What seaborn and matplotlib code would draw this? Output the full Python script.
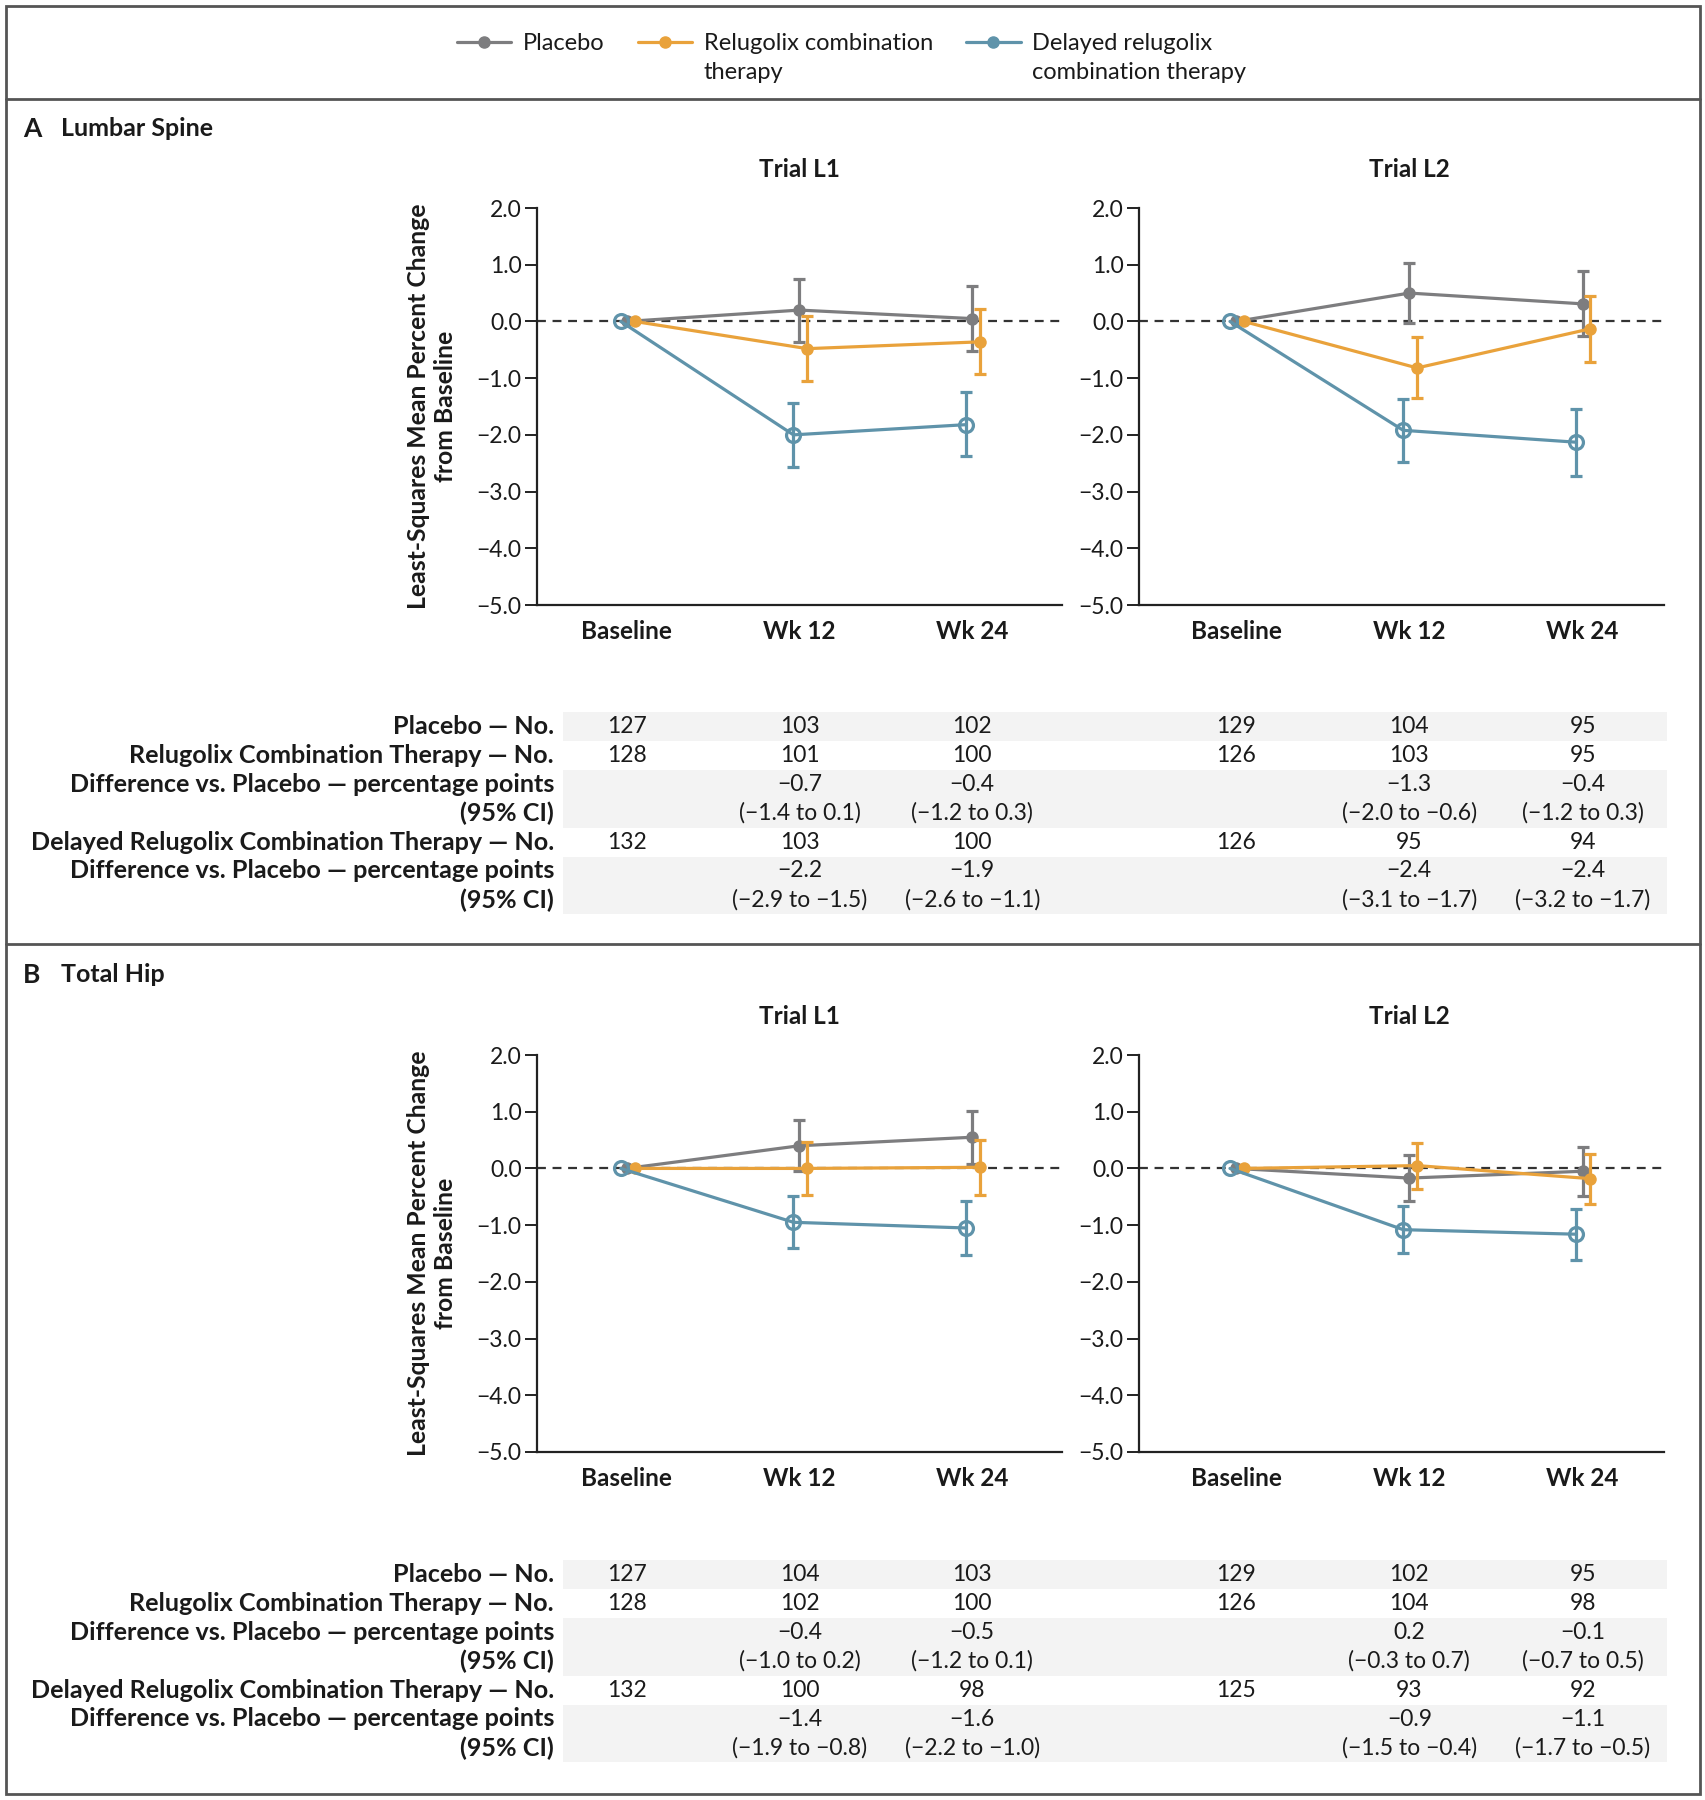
import pandas as pd
import numpy as np
import matplotlib
matplotlib.use("Agg")
import matplotlib.pyplot as plt
import matplotlib.transforms as mtransforms
from matplotlib.patches import Rectangle
from matplotlib.lines import Line2D
import seaborn as sns

# ---- data ----
visits = ["Baseline", "Wk 12", "Wk 24"]
groups = ["Placebo", "Relugolix combination", "Delayed relugolix"]
groups_cont = ["", "therapy", "combination therapy"]
colors = ["#7d7d7f", "#e9a23b", "#5f93aa"]

# panel A, lumbar spine (mean, lower CI, upper CI)
a_l1_placebo = [0.0, 0.20, 0.05]
a_l1_placebo_lo = [0.0, -0.37, -0.52]
a_l1_placebo_hi = [0.0, 0.75, 0.62]
a_l1_relu = [0.0, -0.48, -0.36]
a_l1_relu_lo = [0.0, -1.05, -0.93]
a_l1_relu_hi = [0.0, 0.10, 0.22]
a_l1_delay = [0.0, -2.00, -1.82]
a_l1_delay_lo = [0.0, -2.56, -2.38]
a_l1_delay_hi = [0.0, -1.43, -1.25]

a_l2_placebo = [0.0, 0.50, 0.31]
a_l2_placebo_lo = [0.0, -0.02, -0.26]
a_l2_placebo_hi = [0.0, 1.03, 0.89]
a_l2_relu = [0.0, -0.82, -0.13]
a_l2_relu_lo = [0.0, -1.35, -0.72]
a_l2_relu_hi = [0.0, -0.28, 0.45]
a_l2_delay = [0.0, -1.92, -2.13]
a_l2_delay_lo = [0.0, -2.47, -2.72]
a_l2_delay_hi = [0.0, -1.37, -1.54]

# panel B, total hip
b_l1_placebo = [0.0, 0.40, 0.55]
b_l1_placebo_lo = [0.0, -0.04, 0.08]
b_l1_placebo_hi = [0.0, 0.85, 1.02]
b_l1_relu = [0.0, 0.00, 0.02]
b_l1_relu_lo = [0.0, -0.46, -0.47]
b_l1_relu_hi = [0.0, 0.46, 0.50]
b_l1_delay = [0.0, -0.95, -1.05]
b_l1_delay_lo = [0.0, -1.41, -1.53]
b_l1_delay_hi = [0.0, -0.49, -0.57]

b_l2_placebo = [0.0, -0.17, -0.05]
b_l2_placebo_lo = [0.0, -0.57, -0.48]
b_l2_placebo_hi = [0.0, 0.23, 0.38]
b_l2_relu = [0.0, 0.05, -0.18]
b_l2_relu_lo = [0.0, -0.36, -0.62]
b_l2_relu_hi = [0.0, 0.44, 0.25]
b_l2_delay = [0.0, -1.08, -1.16]
b_l2_delay_lo = [0.0, -1.49, -1.61]
b_l2_delay_hi = [0.0, -0.66, -0.71]

row_labels = ["Placebo \u2014 No.",
              "Relugolix Combination Therapy \u2014 No.",
              "Difference vs. Placebo \u2014 percentage points",
              "(95% CI)",
              "Delayed Relugolix Combination Therapy \u2014 No.",
              "Difference vs. Placebo \u2014 percentage points",
              "(95% CI)"]

a_l1_table = [["127", "103", "102"],
              ["128", "101", "100"],
              ["", "\u22120.7", "\u22120.4"],
              ["", "(\u22121.4 to 0.1)", "(\u22121.2 to 0.3)"],
              ["132", "103", "100"],
              ["", "\u22122.2", "\u22121.9"],
              ["", "(\u22122.9 to \u22121.5)", "(\u22122.6 to \u22121.1)"]]
a_l2_table = [["129", "104", "95"],
              ["126", "103", "95"],
              ["", "\u22121.3", "\u22120.4"],
              ["", "(\u22122.0 to \u22120.6)", "(\u22121.2 to 0.3)"],
              ["126", "95", "94"],
              ["", "\u22122.4", "\u22122.4"],
              ["", "(\u22123.1 to \u22121.7)", "(\u22123.2 to \u22121.7)"]]
b_l1_table = [["127", "104", "103"],
              ["128", "102", "100"],
              ["", "\u22120.4", "\u22120.5"],
              ["", "(\u22121.0 to 0.2)", "(\u22121.2 to 0.1)"],
              ["132", "100", "98"],
              ["", "\u22121.4", "\u22121.6"],
              ["", "(\u22121.9 to \u22120.8)", "(\u22122.2 to \u22121.0)"]]
b_l2_table = [["129", "102", "95"],
              ["126", "104", "98"],
              ["", "0.2", "\u22120.1"],
              ["", "(\u22120.3 to 0.7)", "(\u22120.7 to 0.5)"],
              ["125", "93", "92"],
              ["", "\u22120.9", "\u22121.1"],
              ["", "(\u22121.5 to \u22120.4)", "(\u22121.7 to \u22120.5)"]]

sns.set_style("ticks")
plt.rcParams['font.family'] = ['Lato', 'DejaVu Sans']
plt.rcParams['axes.unicode_minus'] = True

W, H = 1706, 1800
fig = plt.figure(figsize=(W / 100, H / 100), dpi=100)


def fx(px):
    return px / W


def fy(py):
    return 1 - py / H


offsets = [0.0, 0.045, -0.035]
TXT = "#1a1a1a"


def draw_panel(ax, series, title, xlim):
    for i, (mean, lo, hi) in enumerate(series):
        df = pd.DataFrame({"x": np.arange(3) + offsets[i], "y": mean})
        filled = i < 2
        sns.lineplot(data=df, x="x", y="y", ax=ax, color=colors[i], lw=2.3,
                     marker="o", markersize=9 if filled else 10,
                     markerfacecolor=colors[i] if filled else "none",
                     markeredgecolor=colors[i], markeredgewidth=0 if filled else 2.3,
                     estimator=None, zorder=3 + i)
        m = np.array(mean[1:])
        ax.errorbar(df["x"][1:], m, yerr=[m - np.array(lo[1:]), np.array(hi[1:]) - m],
                    fmt="none", ecolor=colors[i], elinewidth=2.3, capsize=4,
                    capthick=2.3, zorder=3 + i)
    ax.axhline(0, color="#333333", lw=1.6, ls=(0, (4, 3)), zorder=1)
    ax.set_xlim(*xlim)
    ax.set_ylim(-5, 2)
    ax.set_yticks(np.arange(-5, 3, 1))
    ax.set_yticklabels([f"{v:.1f}".replace("-", "\u2212") for v in np.arange(-5, 3, 1)],
                       fontsize=16.5, color=TXT)
    ax.set_xticks(range(3))
    ax.set_xticklabels(visits, fontsize=17.5, fontweight="bold", color=TXT)
    ax.tick_params(axis="x", length=0, pad=11)
    ax.tick_params(axis="y", length=9, width=1.4, pad=2, color="#222222")
    for s in ["left", "bottom"]:
        ax.spines[s].set_linewidth(1.6)
        ax.spines[s].set_color("#222222")
    sns.despine(ax=ax)
    ax.set_xlabel("")
    ax.set_ylabel("")
    # title centred over the Wk 12 column
    ax.set_title(title, fontsize=17.5, fontweight="bold", pad=22, color=TXT,
                 x=(1 - xlim[0]) / (xlim[1] - xlim[0]))


def draw_table(ax, table, y0):
    trans = mtransforms.blended_transform_factory(ax.transData, fig.transFigure)
    for r, row in enumerate(table):
        for c, val in enumerate(row):
            ax.text(c, fy(y0 + r * 28.9), val, transform=trans, ha="center",
                    va="center", fontsize=16.5, color=TXT, clip_on=False)


def draw_row_labels(y0):
    for r, lab in enumerate(row_labels):
        fig.text(fx(554), fy(y0 + r * 28.9), lab, ha="right", va="center",
                 fontsize=18.1, fontweight="bold", color=TXT)
    for rows in [(0, 0), (2, 3), (5, 6)]:
        top = y0 + rows[0] * 28.9 - 14.45
        bot = y0 + rows[1] * 28.9 + 14.45
        fig.add_artist(Rectangle((fx(563), fy(bot)), fx(1667) - fx(563), fy(top) - fy(bot),
                                 transform=fig.transFigure, facecolor="#f3f3f3",
                                 edgecolor="none", zorder=0))


panels = [
    ("A", "Lumbar Spine", 208, 129, 726.5,
     [((a_l1_placebo, a_l1_placebo_lo, a_l1_placebo_hi), (a_l1_relu, a_l1_relu_lo, a_l1_relu_hi),
       (a_l1_delay, a_l1_delay_lo, a_l1_delay_hi), a_l1_table),
      ((a_l2_placebo, a_l2_placebo_lo, a_l2_placebo_hi), (a_l2_relu, a_l2_relu_lo, a_l2_relu_hi),
       (a_l2_delay, a_l2_delay_lo, a_l2_delay_hi), a_l2_table)]),
    ("B", "Total Hip", 1055, 975, 1574.5,
     [((b_l1_placebo, b_l1_placebo_lo, b_l1_placebo_hi), (b_l1_relu, b_l1_relu_lo, b_l1_relu_hi),
       (b_l1_delay, b_l1_delay_lo, b_l1_delay_hi), b_l1_table),
      ((b_l2_placebo, b_l2_placebo_lo, b_l2_placebo_hi), (b_l2_relu, b_l2_relu_lo, b_l2_relu_hi),
       (b_l2_delay, b_l2_delay_lo, b_l2_delay_hi), b_l2_table)]),
]

for letter, name, top, ylab_y, table_y, trials in panels:
    fig.text(fx(23), fy(ylab_y), letter, fontsize=19, fontweight="bold", va="center", color=TXT)
    fig.text(fx(61), fy(ylab_y), name, fontsize=18, fontweight="bold", va="center", color=TXT)
    draw_row_labels(table_y)
    for k, (pl, rl, dl, table) in enumerate(trials):
        left = [537, 1139][k]
        ax = fig.add_axes([fx(left), fy(top + 397), fx(525), 397 / H])
        draw_panel(ax, [pl, rl, dl], ["Trial L1", "Trial L2"][k],
                   [(-0.52, 2.52), (-0.56, 2.47)][k])
        draw_table(ax, table, table_y)
    fig.text(fx(432), fy(top + 198), "Least-Squares Mean Percent Change\nfrom Baseline",
             rotation=90, ha="center", va="center", multialignment="center",
             fontsize=17.8, fontweight="bold", color=TXT, linespacing=1.25)

# legend (first lines), second lines placed under the label text
handles = [Line2D([], [], color=c, lw=2.3, marker="o", markersize=8) for c in colors]
leg = fig.legend(handles, groups, loc="center left", bbox_to_anchor=(fx(457), fy(43.5)),
                 ncol=3, frameon=False, fontsize=17, handlelength=2.3,
                 columnspacing=1.4, handletextpad=0.5, borderpad=0, borderaxespad=0)
for t in leg.get_texts():
    t.set_color(TXT)
fig.canvas.draw()
inv = fig.transFigure.inverted()
for t, cont in zip(leg.get_texts(), groups_cont):
    if cont:
        bb = t.get_window_extent().transformed(inv)
        fig.text(bb.x0, fy(72.5), cont, fontsize=17, va="center", ha="left", color=TXT)

# frame lines
frame_kw = dict(transform=fig.transFigure, color="#555555", lw=2)
fig.add_artist(Rectangle((fx(6), fy(1794)), fx(1700) - fx(6), fy(6) - fy(1794),
                         transform=fig.transFigure, fill=False, edgecolor="#555555", lw=2))
fig.add_artist(Line2D([fx(6), fx(1700)], [fy(99), fy(99)], **frame_kw))
fig.add_artist(Line2D([fx(6), fx(1700)], [fy(944), fy(944)], **frame_kw))

fig.savefig("out.png", dpi=100, facecolor="white")
